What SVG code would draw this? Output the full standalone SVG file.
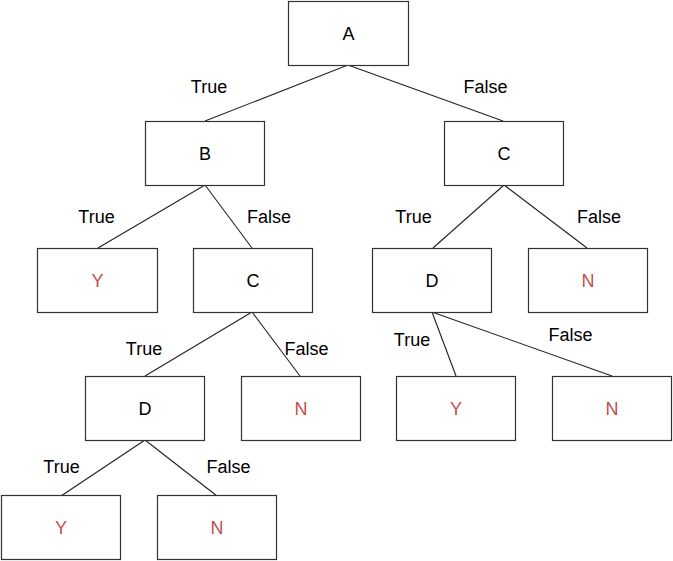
<svg xmlns="http://www.w3.org/2000/svg" width="673" height="561" viewBox="0 0 673 561">
<style>
.box{fill:#fff;stroke:#333;stroke-width:1.2}
.t{font-family:"Liberation Sans",Arial,sans-serif;font-size:18px;text-anchor:middle;fill:#000}
.r{fill:#C0504D}
.lbl{font-family:"Liberation Sans",Arial,sans-serif;font-size:18px;text-anchor:middle;fill:#000}
.ln{stroke:#222;stroke-width:1.1;fill:none}
</style>
<rect width="673" height="561" fill="#fff"/>
<g id="connectors">
<line class="ln" x1="348" y1="65" x2="205" y2="121"/>
<line class="ln" x1="348" y1="65" x2="503" y2="121"/>
<line class="ln" x1="205" y1="185" x2="98" y2="248"/>
<line class="ln" x1="205" y1="185" x2="252" y2="248"/>
<line class="ln" x1="504" y1="185" x2="433" y2="248"/>
<line class="ln" x1="504" y1="185" x2="587" y2="248"/>
<line class="ln" x1="252" y1="312" x2="145" y2="376"/>
<line class="ln" x1="252" y1="312" x2="300" y2="376"/>
<line class="ln" x1="432" y1="312" x2="456" y2="376"/>
<line class="ln" x1="432" y1="312" x2="612" y2="376"/>
<line class="ln" x1="145" y1="440" x2="61" y2="496"/>
<line class="ln" x1="145" y1="440" x2="217" y2="496"/>
<text class="lbl" x="209" y="93">True</text>
<text class="lbl" x="485.5" y="93">False</text>
<text class="lbl" x="96.5" y="223">True</text>
<text class="lbl" x="269" y="223">False</text>
<text class="lbl" x="413.5" y="223">True</text>
<text class="lbl" x="599" y="223">False</text>
<text class="lbl" x="144" y="355">True</text>
<text class="lbl" x="306.5" y="355">False</text>
<text class="lbl" x="412" y="346">True</text>
<text class="lbl" x="570.5" y="341">False</text>
<text class="lbl" x="61.5" y="473">True</text>
<text class="lbl" x="228.5" y="473">False</text>
</g>
<g id="nA"><rect class="box" x="288.5" y="1.5" width="120" height="64"/><text class="t" x="348.5" y="40">A</text></g>
<g id="nB"><rect class="box" x="145.5" y="121.5" width="119" height="64"/><text class="t" x="205" y="160">B</text></g>
<g id="nC1"><rect class="box" x="444.5" y="121.5" width="119" height="64"/><text class="t" x="504" y="160">C</text></g>
<g id="nY1"><rect class="box" x="37.5" y="248.5" width="120" height="64"/><text class="t r" x="97.5" y="287">Y</text></g>
<g id="nC2"><rect class="box" x="193.5" y="248.5" width="119" height="64"/><text class="t" x="253" y="287">C</text></g>
<g id="nD1"><rect class="box" x="372.5" y="248.5" width="119" height="64"/><text class="t" x="432" y="287">D</text></g>
<g id="nN1"><rect class="box" x="528.5" y="248.5" width="119" height="64"/><text class="t r" x="588" y="287">N</text></g>
<g id="nD2"><rect class="box" x="85.5" y="376.5" width="119" height="64"/><text class="t" x="145" y="415">D</text></g>
<g id="nN2"><rect class="box" x="241.5" y="376.5" width="119" height="64"/><text class="t r" x="301" y="415">N</text></g>
<g id="nY2"><rect class="box" x="396.5" y="376.5" width="119" height="64"/><text class="t r" x="456" y="415">Y</text></g>
<g id="nN3"><rect class="box" x="552.5" y="376.5" width="119" height="64"/><text class="t r" x="612" y="415">N</text></g>
<g id="nY3"><rect class="box" x="1.5" y="495.5" width="119" height="64"/><text class="t r" x="61" y="534">Y</text></g>
<g id="nN4"><rect class="box" x="157.5" y="495.5" width="119" height="64"/><text class="t r" x="217" y="534">N</text></g>
</svg>
